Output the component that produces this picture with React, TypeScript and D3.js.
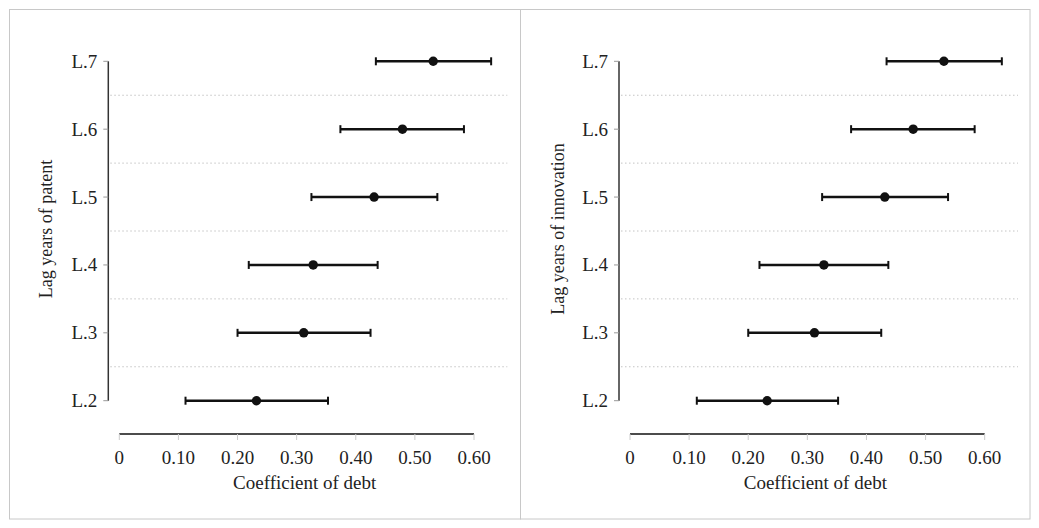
import React from "react";
import * as d3 from "d3";

const categories = ["L.7", "L.6", "L.5", "L.4", "L.3", "L.2"];
const patentCoef = [0.531, 0.479, 0.431, 0.328, 0.312, 0.232];
const patentLower = [0.434, 0.374, 0.325, 0.219, 0.2, 0.112];
const patentUpper = [0.629, 0.583, 0.538, 0.437, 0.425, 0.353];
const innovationCoef = [0.531, 0.479, 0.431, 0.328, 0.312, 0.232];
const innovationLower = [0.434, 0.374, 0.325, 0.219, 0.2, 0.113];
const innovationUpper = [0.629, 0.583, 0.538, 0.437, 0.425, 0.352];
const xTicks = [0, 0.1, 0.2, 0.3, 0.4, 0.5, 0.6];
const xTitle = "Coefficient of debt";
const yTitles = ["Lag years of patent", "Lag years of innovation"];

const FONT = "Liberation Serif, Times New Roman, Times, serif";

type PanelProps = {
  left: number;
  yTitle: string;
  yTitleX: number;
  coef: number[];
  lower: number[];
  upper: number[];
};

function Panel({ left, yTitle, yTitleX, coef, lower, upper }: PanelProps) {
  const x0 = left + 119.3;
  const x = d3.scaleLinear().domain([0, 0.6]).range([x0, x0 + 354.7]);
  const y = d3.scalePoint<string>().domain(categories).range([61.3, 400.7]);
  const axisX = left + 108.3;
  const step = y.step();
  const mids = categories.slice(0, -1).map((c) => (y(c) as number) + step / 2);
  const gridEnd = x0 + 388;
  const txt = { fontFamily: FONT, fill: "#222" } as React.CSSProperties;
  return (
    <g>
      {mids.map((m, i) => (
        <line key={i} x1={axisX + 2} x2={gridEnd} y1={m} y2={m} stroke="#c4c4c4" strokeWidth={1} strokeDasharray="1.5,2.5" />
      ))}
      <line x1={axisX} x2={axisX} y1={y(categories[0])} y2={y(categories[categories.length - 1])} stroke="#333" strokeWidth={1.5} />
      {categories.map((c) => (
        <g key={c}>
          <line x1={axisX - 5} x2={axisX} y1={y(c)} y2={y(c)} stroke="#999" strokeWidth={1} />
          <text x={axisX - 11} y={(y(c) as number) + 6.5} textAnchor="end" style={{ ...txt, fontSize: 19 }}>{c}</text>
        </g>
      ))}
      <text transform={`translate(${yTitleX + 6},229) rotate(-90)`} textAnchor="middle" style={{ ...txt, fontSize: 18 }}>{yTitle}</text>
      <line x1={x(0)} x2={x(0.6)} y1={434} y2={434} stroke="#111" strokeWidth={1.5} />
      {xTicks.map((t) => (
        <g key={t}>
          <line x1={x(t)} x2={x(t)} y1={434} y2={440} stroke="#ccc" strokeWidth={1} />
          <text x={x(t)} y={463.5} textAnchor="middle" style={{ ...txt, fontSize: 19 }}>{t === 0 ? "0" : t.toFixed(2)}</text>
        </g>
      ))}
      <text x={(x(0) + x(0.6)) / 2 + 8} y={488.5} textAnchor="middle" style={{ ...txt, fontSize: 19 }}>{xTitle}</text>
      {categories.map((c, i) => {
        const cy = y(c) as number;
        return (
          <g key={c}>
            <line x1={x(lower[i])} x2={x(upper[i])} y1={cy} y2={cy} stroke="#111" strokeWidth={2.5} />
            <line x1={x(lower[i])} x2={x(lower[i])} y1={cy - 4} y2={cy + 4} stroke="#111" strokeWidth={2} />
            <line x1={x(upper[i])} x2={x(upper[i])} y1={cy - 4} y2={cy + 4} stroke="#111" strokeWidth={2} />
            <circle cx={x(coef[i])} cy={cy} r={4.7} fill="#111" />
          </g>
        );
      })}
    </g>
  );
}

export default function App() {
  return (
    <svg width={1039} height={528} style={{ position: "absolute", left: 0, top: 0, background: "#fff" }}>
      <rect x={0} y={0} width={1039} height={528} fill="#fff" />
      <rect x={9.5} y={9.5} width={511} height={509.5} fill="none" stroke="#c8c8c8" strokeWidth={1} />
      <rect x={520.5} y={9.5} width={509.5} height={509.5} fill="none" stroke="#c8c8c8" strokeWidth={1} />
      <Panel left={0} yTitle={yTitles[0]} yTitleX={46} coef={patentCoef} lower={patentLower} upper={patentUpper} />
      <Panel left={510.7} yTitle={yTitles[1]} yTitleX={558} coef={innovationCoef} lower={innovationLower} upper={innovationUpper} />
    </svg>
  );
}
